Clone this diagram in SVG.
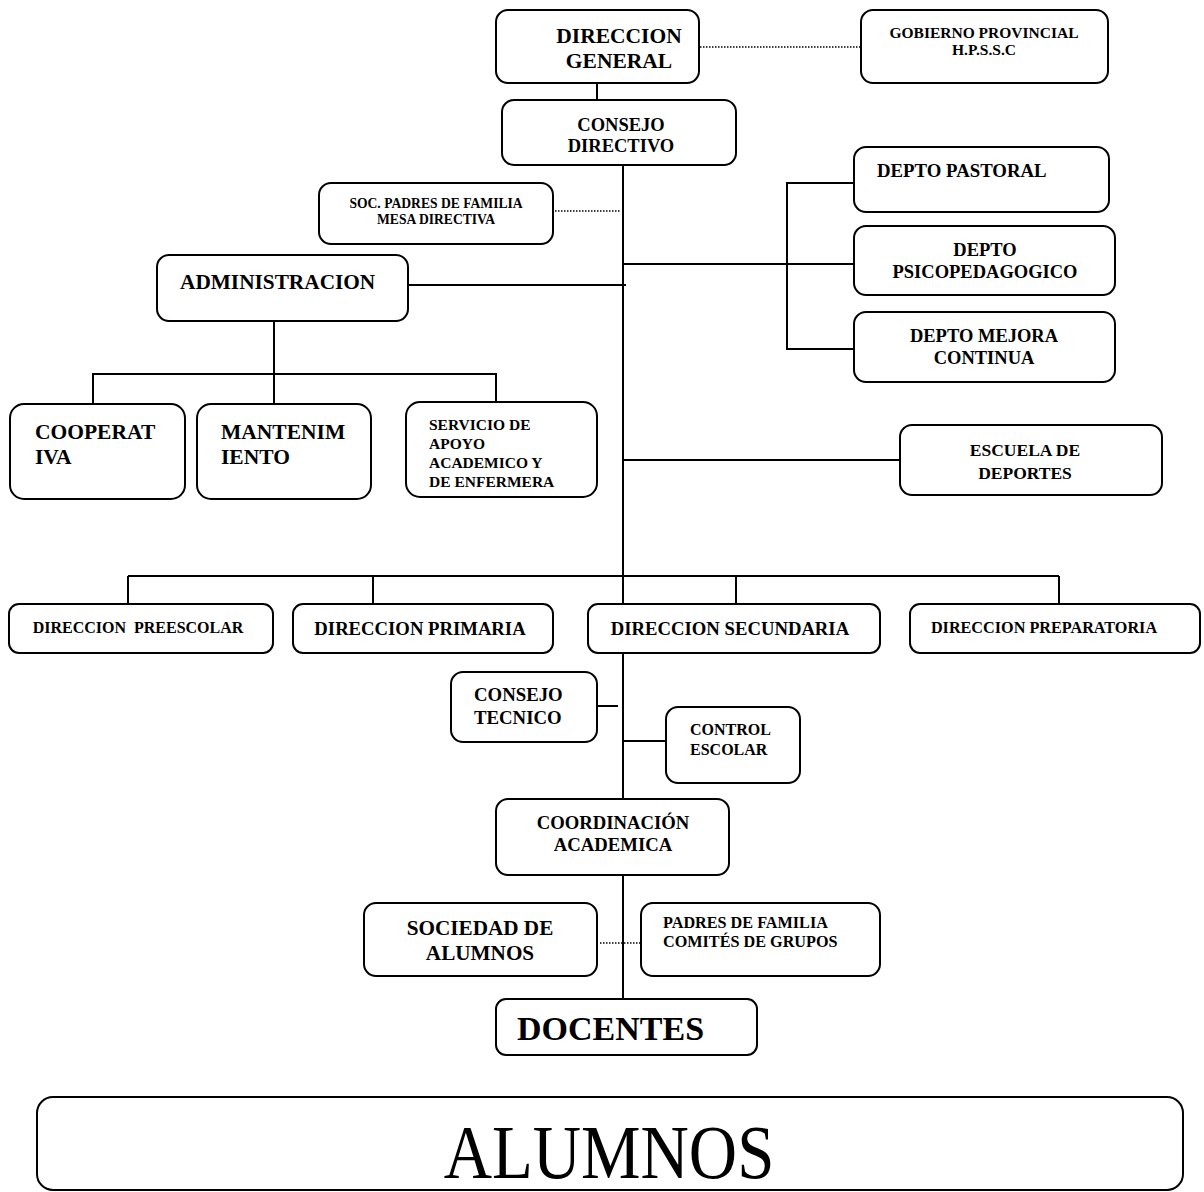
<svg xmlns="http://www.w3.org/2000/svg" width="1204" height="1192" viewBox="0 0 1204 1192">
<style>
.b{fill:#fff;stroke:#000;stroke-width:2}
.t{font-family:"Liberation Serif","Times New Roman",serif;font-weight:bold;fill:#000}
.c{text-anchor:middle}
.ln{stroke:#000;stroke-width:2;fill:none}
.dt{stroke:#000;stroke-width:1.3;stroke-dasharray:1.5 1.5;fill:none}
</style>
<rect width="1204" height="1192" fill="#fff"/>
<g id="connectors">
<line class="ln" x1="597" y1="83" x2="597" y2="100"/>
<line class="dt" x1="700" y1="47" x2="861" y2="47"/>
<line class="ln" x1="623" y1="165" x2="623" y2="604"/>
<line class="dt" x1="555" y1="211" x2="620" y2="211"/>
<line class="ln" x1="408" y1="285" x2="626" y2="285"/>
<line class="ln" x1="274" y1="321" x2="274" y2="374"/>
<polyline class="ln" points="93,404 93,374 496,374 496,403"/>
<line class="ln" x1="274" y1="374" x2="274" y2="404"/>
<line class="ln" x1="623" y1="264" x2="854" y2="264"/>
<polyline class="ln" points="854,183 787,183 787,349 854,349"/>
<line class="ln" x1="623" y1="460" x2="900" y2="460"/>
<line class="ln" x1="128" y1="576" x2="1059" y2="576"/>
<line class="ln" x1="128" y1="576" x2="128" y2="604"/>
<line class="ln" x1="373" y1="576" x2="373" y2="604"/>
<line class="ln" x1="736" y1="576" x2="736" y2="604"/>
<line class="ln" x1="1059" y1="576" x2="1059" y2="604"/>
<line class="ln" x1="623" y1="653" x2="623" y2="799"/>
<line class="ln" x1="597" y1="706" x2="618" y2="706"/>
<line class="ln" x1="622" y1="741" x2="666" y2="741"/>
<line class="ln" x1="623" y1="875" x2="623" y2="999"/>
<line class="dt" x1="600" y1="943" x2="641" y2="943"/>
</g>
<g id="direccion-general"><rect class="b" x="496" y="10" width="203" height="73" rx="12"/><text class="t c" font-size="21.5" x="619" y="43">DIRECCION</text><text class="t c" font-size="21.5" x="619" y="68">GENERAL</text></g>
<g id="gobierno"><rect class="b" x="861" y="10" width="247" height="73" rx="12"/><text class="t c" font-size="15.5" x="984" y="38">GOBIERNO PROVINCIAL</text><text class="t c" font-size="15.5" x="984" y="55">H.P.S.S.C</text></g>
<g id="consejo-directivo"><rect class="b" x="502" y="100" width="234" height="65" rx="12"/><text class="t c" font-size="18.5" x="621" y="131">CONSEJO</text><text class="t c" font-size="18.5" x="621" y="152">DIRECTIVO</text></g>
<g id="soc-padres"><rect class="b" x="319" y="183" width="234" height="61" rx="12"/><text class="t c" font-size="13.6" x="436" y="208">SOC. PADRES DE FAMILIA</text><text class="t c" font-size="13.6" x="436" y="224">MESA DIRECTIVA</text></g>
<g id="administracion"><rect class="b" x="157" y="255" width="251" height="66" rx="12"/><text class="t" font-size="21.3" x="180" y="289">ADMINISTRACION</text></g>
<g id="cooperativa"><rect class="b" x="10" y="404" width="175" height="95" rx="14"/><text class="t" font-size="21.5" x="35" y="439">COOPERAT</text><text class="t" font-size="21.5" x="35" y="464">IVA</text></g>
<g id="mantenimiento"><rect class="b" x="197" y="404" width="174" height="95" rx="14"/><text class="t" font-size="21.5" x="221" y="439">MANTENIM</text><text class="t" font-size="21.5" x="221" y="464">IENTO</text></g>
<g id="servicio"><rect class="b" x="406" y="402" width="191" height="95" rx="14"/><text class="t" font-size="15.5" x="429" y="430">SERVICIO DE</text><text class="t" font-size="15.5" x="429" y="449">APOYO</text><text class="t" font-size="15.5" x="429" y="468">ACADEMICO Y</text><text class="t" font-size="15.5" x="429" y="487">DE ENFERMERA</text></g>
<g id="depto-pastoral"><rect class="b" x="854" y="147" width="255" height="65" rx="12"/><text class="t" font-size="18.8" x="877" y="177">DEPTO PASTORAL</text></g>
<g id="depto-psico"><rect class="b" x="854" y="226" width="261" height="69" rx="12"/><text class="t c" font-size="18.5" x="985" y="256">DEPTO</text><text class="t c" font-size="18.5" x="985" y="278">PSICOPEDAGOGICO</text></g>
<g id="depto-mejora"><rect class="b" x="854" y="312" width="261" height="70" rx="12"/><text class="t c" font-size="18.5" x="984" y="342">DEPTO MEJORA</text><text class="t c" font-size="18.5" x="984" y="364">CONTINUA</text></g>
<g id="escuela-deportes"><rect class="b" x="900" y="425" width="262" height="70" rx="12"/><text class="t c" font-size="17.5" x="1025" y="456">ESCUELA DE</text><text class="t c" font-size="17.5" x="1025" y="479">DEPORTES</text></g>
<g id="dir-preescolar"><rect class="b" x="9" y="604" width="264" height="49" rx="10"/><text class="t c" font-size="16" x="138" y="633" xml:space="preserve">DIRECCION  PREESCOLAR</text></g>
<g id="dir-primaria"><rect class="b" x="293" y="604" width="260" height="49" rx="10"/><text class="t c" font-size="18.7" x="420" y="635">DIRECCION PRIMARIA</text></g>
<g id="dir-secundaria"><rect class="b" x="588" y="604" width="292" height="49" rx="10"/><text class="t c" font-size="18.7" x="730" y="635">DIRECCION SECUNDARIA</text></g>
<g id="dir-preparatoria"><rect class="b" x="910" y="604" width="290" height="49" rx="10"/><text class="t c" font-size="16.2" x="1044" y="633">DIRECCION PREPARATORIA</text></g>
<g id="consejo-tecnico"><rect class="b" x="451" y="672" width="146" height="70" rx="12"/><text class="t" font-size="18.8" x="474" y="701">CONSEJO</text><text class="t" font-size="18.8" x="474" y="724">TECNICO</text></g>
<g id="control-escolar"><rect class="b" x="666" y="707" width="134" height="76" rx="12"/><text class="t" font-size="16" x="690" y="735">CONTROL</text><text class="t" font-size="16" x="690" y="755">ESCOLAR</text></g>
<g id="coordinacion"><rect class="b" x="496" y="799" width="233" height="76" rx="12"/><text class="t c" font-size="18.7" x="613" y="829">COORDINACIÓN</text><text class="t c" font-size="18.7" x="613" y="851">ACADEMICA</text></g>
<g id="sociedad-alumnos"><rect class="b" x="364" y="903" width="233" height="73" rx="12"/><text class="t c" font-size="21.2" x="480" y="935">SOCIEDAD DE</text><text class="t c" font-size="21.2" x="480" y="960">ALUMNOS</text></g>
<g id="padres-comites"><rect class="b" x="641" y="903" width="239" height="73" rx="12"/><text class="t" font-size="16.2" x="663" y="928">PADRES DE FAMILIA</text><text class="t" font-size="16.2" x="663" y="947">COMITÉS DE GRUPOS</text></g>
<g id="docentes"><rect class="b" x="496" y="999" width="261" height="56" rx="10"/><text class="t" font-size="34" x="517" y="1040">DOCENTES</text></g>
<g id="alumnos"><rect class="b" x="37" y="1097" width="1146" height="93" rx="16"/><text font-family="'Liberation Serif','Times New Roman',serif" font-size="76" text-anchor="middle" transform="translate(609 0) scale(0.88 1)" x="0" y="1178">ALUMNOS</text></g>
</svg>
